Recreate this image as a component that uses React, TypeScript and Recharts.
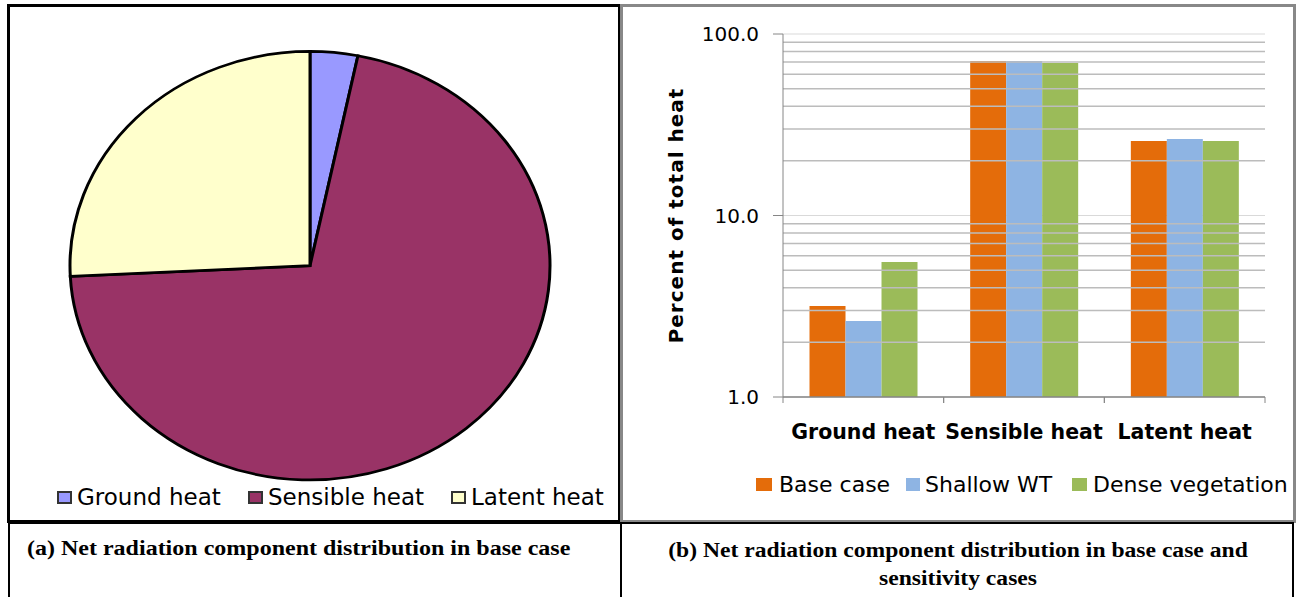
import { PieChart, Pie, Cell, BarChart, Bar, XAxis, YAxis, CartesianGrid, ReferenceLine } from "recharts";

const pieNames = ["Ground heat", "Sensible heat", "Latent heat"];
const pieValues = [3.2, 71.0, 25.8];
const pieColors = ["#9999FF", "#993366", "#FFFFCC"];

const categories = ["Ground heat", "Sensible heat", "Latent heat"];
const baseCase = [3.17, 71.0, 25.7];
const shallowWT = [2.62, 71.0, 26.4];
const denseVegetation = [5.54, 69.2, 25.7];
const seriesNames = ["Base case", "Shallow WT", "Dense vegetation"];
const seriesColors = ["#E46C0A", "#8EB4E3", "#9BBB59"];
const yTicks = [1, 10, 100];
const minorGrid = [2, 3, 4, 5, 6, 7, 8, 9, 20, 30, 40, 50, 60, 70, 80, 90];

const pieData = pieNames.map((name, i) => ({ name, value: pieValues[i] }));
const barData = categories.map((name, i) => ({
  name,
  base: baseCase[i],
  shallow: shallowWT[i],
  dense: denseVegetation[i],
}));

const PLOT_W = 482;
const BAND = PLOT_W / categories.length;
const FONT = "'DejaVu Sans', sans-serif";
const SERIF = "'Liberation Serif', serif";

function CategoryTick({ x, y, payload }: any) {
  return (
    <g>
      <line x1={x - BAND / 2} y1={y} x2={x - BAND / 2} y2={y + 6} stroke="#868686" />
      <line x1={x + BAND / 2} y1={y} x2={x + BAND / 2} y2={y + 6} stroke="#868686" />
      <text x={x} y={y + 42} textAnchor="middle" fontFamily={FONT} fontWeight="bold" fontSize={20.5} fill="#000">
        {payload.value}
      </text>
    </g>
  );
}

function LegendItem({ color, label, x, y, size, w, h, border, gap }: any) {
  return (
    <div style={{ position: "absolute", left: x, top: y, display: "flex", alignItems: "center", whiteSpace: "nowrap" }}>
      <span
        style={{
          width: w,
          height: h,
          background: color,
          border: border ? "2px solid #333" : "none",
          boxSizing: "border-box",
          marginRight: gap,
        }}
      />
      <span style={{ fontFamily: FONT, fontSize: size, color: "#000" }}>{label}</span>
    </div>
  );
}

export default function App() {
  return (
    <div style={{ position: "absolute", left: 0, top: 0, width: 1296, height: 597, background: "#fff", overflow: "hidden" }}>
      {/* table frames */}
      <div style={{ position: "absolute", left: 7, top: 4, width: 614, height: 519, border: "3px solid #000", boxSizing: "border-box" }} />
      <div style={{ position: "absolute", left: 620, top: 4, width: 676, height: 519, border: "3px solid #888", boxSizing: "border-box" }} />
      <div style={{ position: "absolute", left: 8, top: 522, width: 1286, height: 80, borderLeft: "2px solid #000", borderTop: "2px solid #000", borderRight: "2px solid #000", boxSizing: "border-box" }} />
      <div style={{ position: "absolute", left: 620, top: 522, width: 2, height: 80, background: "#000" }} />

      {/* (a) pie */}
      <div style={{ position: "absolute", left: 65, top: 47, width: 490, height: 490, transform: "scaleY(0.8926)", transformOrigin: "0 0" }}>
        <PieChart width={490} height={490} margin={{ top: 0, right: 0, bottom: 0, left: 0 }}>
          <Pie
            data={pieData}
            dataKey="value"
            cx={245}
            cy={245}
            outerRadius={240}
            startAngle={90}
            endAngle={-270}
            stroke="#000"
            strokeWidth={3}
            isAnimationActive={false}
          >
            {pieData.map((d, i) => (
              <Cell key={d.name} fill={pieColors[i]} stroke="#000" />
            ))}
          </Pie>
        </PieChart>
      </div>
      <LegendItem color={pieColors[0]} label={pieNames[0]} x={57} y={484} size={23} w={15} h={13} border gap={5} />
      <LegendItem color={pieColors[1]} label={pieNames[1]} x={248} y={484} size={23} w={15} h={13} border gap={5} />
      <LegendItem color={pieColors[2]} label={pieNames[2]} x={451} y={484} size={23} w={15} h={13} border gap={5} />

      {/* (b) bars */}
      <div style={{ position: "absolute", left: 640, top: 0 }}>
        <BarChart
          width={656}
          height={520}
          data={barData}
          margin={{ top: 34, right: 31, left: 0, bottom: 63 }}
          barCategoryGap="16.5%"
          barGap={0}
        >
          <CartesianGrid vertical={false} stroke="#d9d9d9" />
          {minorGrid.map((v) => (
            <ReferenceLine key={v} y={v} stroke="#bcbcbc" strokeWidth={1.5} />
          ))}
          <XAxis
            dataKey="name"
            height={60}
            axisLine={{ stroke: "#868686", strokeWidth: 1.5 }}
            tickLine={false}
            tickSize={0}
            tickMargin={0}
            tick={<CategoryTick />}
            interval={0}
          />
          <YAxis
            scale="log"
            domain={[1, 100]}
            ticks={yTicks}
            allowDataOverflow
            width={143}
            tickFormatter={(v: number) => v.toFixed(1)}
            tick={{ fontFamily: FONT, fontSize: 20, fill: "#000" }}
            tickSize={10}
            tickMargin={14}
            axisLine={{ stroke: "#868686" }}
            tickLine={{ stroke: "#868686" }}
            label={{
              value: "Percent of total heat",
              angle: -90,
              position: "insideLeft",
              offset: 36,
              style: { textAnchor: "middle", fontFamily: FONT, fontWeight: "bold", fontSize: 20, letterSpacing: 1, fill: "#000" },
            }}
          />
          <Bar dataKey="base" name={seriesNames[0]} fill={seriesColors[0]} isAnimationActive={false} />
          <Bar dataKey="shallow" name={seriesNames[1]} fill={seriesColors[1]} isAnimationActive={false} />
          <Bar dataKey="dense" name={seriesNames[2]} fill={seriesColors[2]} isAnimationActive={false} />
        </BarChart>
      </div>
      <LegendItem color={seriesColors[0]} label={seriesNames[0]} x={756} y={472} size={22} w={16} h={13} gap={7} />
      <LegendItem color={seriesColors[1]} label={seriesNames[1]} x={906} y={472} size={22} w={14} h={13} gap={5} />
      <LegendItem color={seriesColors[2]} label={seriesNames[2]} x={1072} y={472} size={22} w={15} h={13} gap={6} />

      {/* captions */}
      <div style={{ position: "absolute", left: 27, top: 537, fontFamily: SERIF, fontWeight: "bold", fontSize: 20, color: "#000", whiteSpace: "nowrap", transform: "scaleX(1.2)", transformOrigin: "0 0" }}>
        (a) Net radiation component distribution in base case
      </div>
      <div style={{ position: "absolute", left: 622, top: 536, width: 672, textAlign: "center", lineHeight: "28px", fontFamily: SERIF, fontWeight: "bold", fontSize: 20, color: "#000", transform: "scaleX(1.18)", transformOrigin: "336px 0" }}>
        (b) Net radiation component distribution in base case and
        <br />
        sensitivity cases
      </div>
    </div>
  );
}
